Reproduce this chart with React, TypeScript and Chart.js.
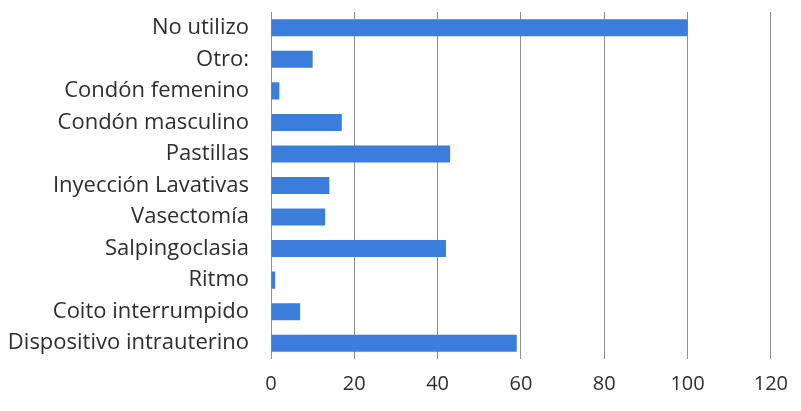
import React, { useEffect, useRef } from "react";
import { Chart, registerables } from "chart.js";

Chart.register(...registerables);

// Métodos anticonceptivos, de arriba hacia abajo
const categories = [
  "No utilizo",
  "Otro:",
  "Condón femenino",
  "Condón masculino",
  "Pastillas",
  "Inyección Lavativas",
  "Vasectomía",
  "Salpingoclasia",
  "Ritmo",
  "Coito interrumpido",
  "Dispositivo intrauterino",
];

const values = [100, 10, 2, 17, 43, 14, 13, 42, 1, 7, 59];

const xMin = 0;
const xMax = 120;
const xStep = 20;

const FONT = "'Open Sans', Lato, sans-serif";
const TEXT = "#2e2e2e";

export default function App() {
  const canvasRef = useRef<HTMLCanvasElement | null>(null);

  useEffect(() => {
    if (!canvasRef.current) return;
    const chart = new Chart(canvasRef.current, {
      type: "bar",
      data: {
        labels: categories,
        datasets: [
          {
            data: values,
            backgroundColor: "#3b7ddb",
            borderWidth: 0,
            barPercentage: 0.54,
            categoryPercentage: 1,
          },
        ],
      },
      options: {
        indexAxis: "y",
        animation: false,
        responsive: false,
        maintainAspectRatio: false,
        layout: { padding: { top: 12, right: 30, bottom: 0, left: 0 } },
        plugins: {
          legend: { display: false },
          tooltip: { enabled: false },
        },
        scales: {
          x: {
            min: xMin,
            max: xMax,
            ticks: {
              stepSize: xStep,
              color: TEXT,
              font: { family: FONT, size: 20 },
              padding: 13,
            },
            grid: {
              color: "#8f8f8f",
              lineWidth: 1,
              drawTicks: false,
            },
            border: { display: false },
            afterFit: (scale: any) => {
              scale.height = 411 - 359;
            },
          },
          y: {
            ticks: {
              color: TEXT,
              font: { family: FONT, size: 22 },
              padding: 22,
            },
            grid: { display: false, drawTicks: false },
            border: { display: false },
            afterFit: (scale: any) => {
              scale.width = 271;
              scale.paddingTop = 0;
              scale.paddingBottom = 0;
            },
          },
        },
      },
    });
    return () => chart.destroy();
  }, []);

  return (
    <div style={{ position: "fixed", left: 0, top: 0, width: 801, height: 411, background: "#fff" }}>
      <canvas ref={canvasRef} width={801} height={411} />
    </div>
  );
}
